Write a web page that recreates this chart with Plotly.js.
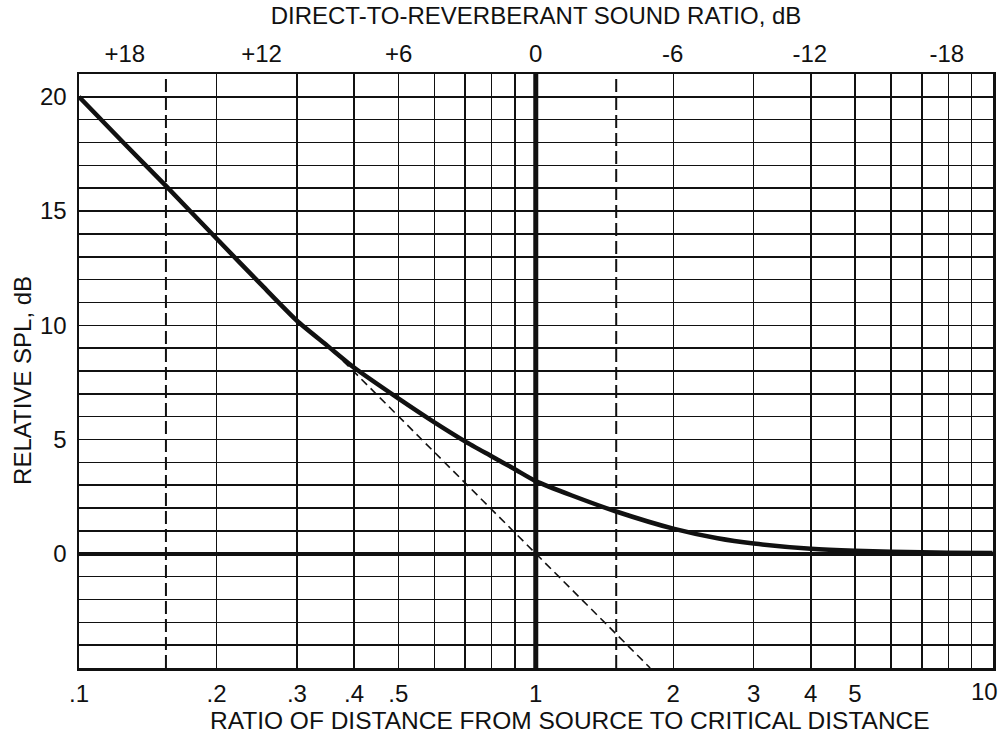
<!DOCTYPE html>
<html><head><meta charset="utf-8">
<script src="https://cdn.plot.ly/plotly-3.0.1.min.js"></script>
<style>html,body{margin:0;padding:0;background:#fff}</style>
</head><body><div id="chart" style="width:1002px;height:735px"></div>
<script>
// Ratio of distance from source to critical distance (r / Dc)
const ratio  = [0.1, 0.125, 0.155, 0.2, 0.25, 0.3, 0.35, 0.4, 0.5, 0.6, 0.7, 0.8, 0.9, 1.0, 1.2, 1.5, 2.0, 2.5, 3.0, 4.0, 5.0, 6.0, 7.0, 8.0, 10.0];
// Relative SPL, dB (total field)
const relSpl = [20.0, 18.0, 16.1, 13.8, 11.8, 10.2, 9.1, 8.15, 6.8, 5.75, 4.92, 4.27, 3.7, 3.18, 2.55, 1.85, 1.1, 0.68, 0.45, 0.22, 0.13, 0.09, 0.07, 0.05, 0.03];
// Direct field only (dashed)
const directRatio = [0.345, 1.78];
const directSpl   = [9.25, -5.0];
// Dashed vertical reference distances
const markerRatios = [0.155, 1.5];
const criticalRatio = 1;
const splRange = [-5, 21];

const xTickVals = [0.1,0.2,0.3,0.4,0.5,0.6,0.7,0.8,0.9,1,2,3,4,5,6,7,8,9,10];
const xTickText = ['.1','.2','.3','.4','.5','','','','','1','2','3','4','5','','','','','10'];
const topTickVals = [0.126, 0.251, 0.501, 1, 1.995, 3.98, 7.94];
const topTickText = ['+18','+12','+6','0','-6','-12','-18'];
const yTickVals = [0, 5, 10, 15, 20];

const xTitle = 'RATIO OF DISTANCE FROM SOURCE TO CRITICAL DISTANCE';
const topTitle = 'DIRECT-TO-REVERBERANT SOUND RATIO, dB';
const yTitle = 'RELATIVE SPL, dB';

const font = {family: 'Liberation Sans, Arial, sans-serif', color: '#111'};
const traces = [];
markerRatios.forEach(r => traces.push({
  x: [r, r], y: splRange, mode: 'lines', xaxis: 'x', yaxis: 'y',
  line: {color: '#111', width: 2, dash: '13px,5px'}, hoverinfo: 'skip', showlegend: false
}));
traces.push({
  x: [criticalRatio, criticalRatio], y: splRange, mode: 'lines',
  line: {color: '#111', width: 5}, hoverinfo: 'skip', showlegend: false
});
traces.push({
  x: directRatio, y: directSpl, mode: 'lines',
  line: {color: '#111', width: 1.6, dash: '8px,5px'}, showlegend: false
});
traces.push({
  x: ratio, y: relSpl, mode: 'lines', line: {color: '#111', width: 4.5, shape: 'spline', smoothing: 0.6}, showlegend: false
});
traces.push({
  x: [1], y: [0], xaxis: 'x2', mode: 'markers', marker: {opacity: 0}, hoverinfo: 'skip', showlegend: false
});

// The last bottom label sits at the plot's right edge; draw it right-aligned so it stays inside the page.
const lastIdx = xTickVals.length - 1;
const axisTickText = xTickText.map((t, i) => i === lastIdx ? '' : t);

const layout = {
  width: 1002, height: 735,
  margin: {l: 79, r: 9, t: 74, b: 67},
  paper_bgcolor: '#fff', plot_bgcolor: '#fff',
  font: Object.assign({size: 24}, font),
  showlegend: false,
  xaxis: {
    type: 'log', range: [-1, 1.001],
    tickmode: 'array', tickvals: xTickVals, ticktext: axisTickText,
    showgrid: true, gridcolor: '#111', gridwidth: 1.5,
    showline: true, linecolor: '#111', linewidth: 2.5, mirror: true,
    ticks: '', ticklabelstandoff: 3,
    tickfont: Object.assign({size: 24}, font),
    zeroline: false, automargin: false
  },
  xaxis2: {
    type: 'log', range: [-1, 1.001], overlaying: 'x', side: 'top',
    tickmode: 'array', tickvals: topTickVals, ticktext: topTickText,
    showgrid: false, showline: false, ticks: '', ticklabelstandoff: 6,
    tickfont: Object.assign({size: 24}, font),
    title: {text: topTitle, font: Object.assign({size: 24}, font), standoff: 8},
    automargin: false
  },
  yaxis: {
    range: splRange,
    tickmode: 'array', tickvals: yTickVals,
    showgrid: true, gridcolor: '#111', gridwidth: 1.5,
    minor: {dtick: 1, tick0: 0, showgrid: true, gridcolor: '#111', gridwidth: 1.5},
    showline: true, linecolor: '#111', linewidth: 2.5, mirror: true,
    ticks: '', ticklabelstandoff: 5,
    tickfont: Object.assign({size: 24}, font),
    zeroline: true, zerolinecolor: '#111', zerolinewidth: 4,
    automargin: false
  },
  annotations: [
    {text: xTickText[lastIdx], xref: 'x', yref: 'paper', x: Math.log10(xTickVals[lastIdx]), y: -0.04,
     xanchor: 'right', yanchor: 'middle', xshift: 6, showarrow: false, borderpad: 0,
     font: Object.assign({size: 24}, font)},
    {text: xTitle, xref: 'paper', yref: 'paper', x: 0.537, y: -0.0892,
     xanchor: 'center', yanchor: 'middle', showarrow: false, borderpad: 0, font: Object.assign({size: 24.5}, font)},
    {text: yTitle, xref: 'paper', yref: 'paper', x: -0.0613, y: 0.485, textangle: -90,
     xanchor: 'center', yanchor: 'middle', showarrow: false, font: Object.assign({size: 24}, font)}
  ]
};
Plotly.newPlot('chart', traces, layout, {displayModeBar: false, staticPlot: true});
</script>
</body></html>
